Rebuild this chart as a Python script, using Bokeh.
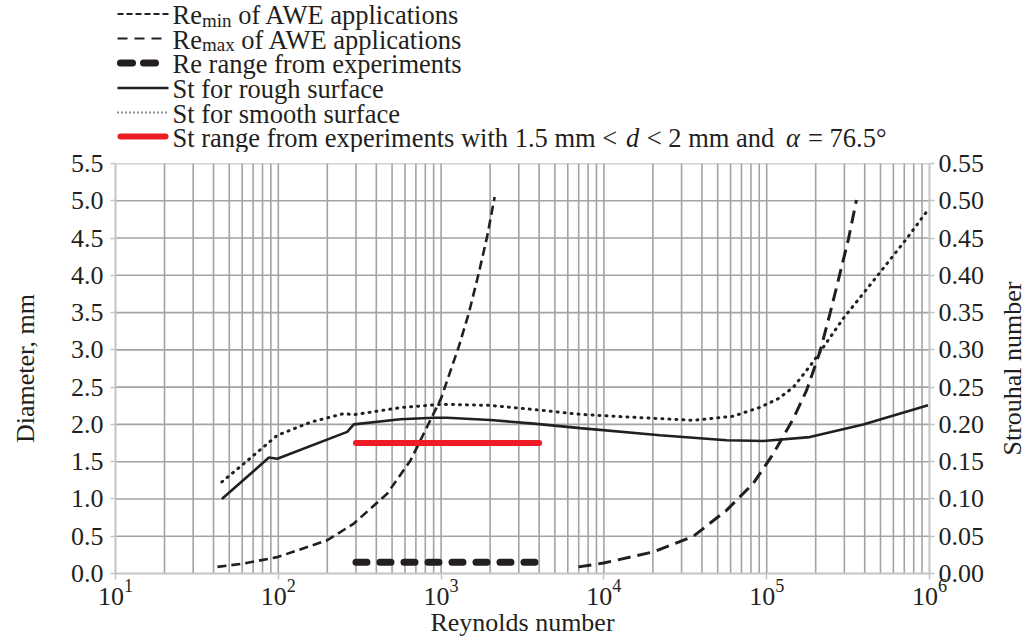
import math
from bokeh.plotting import figure
from bokeh.layouts import column, row
from bokeh.models import (Range1d, LinearAxis, FixedTicker, NumeralTickFormatter,
                          ColumnDataSource)
from bokeh.core.properties import value, field
from bokeh.embed import file_html
from bokeh.resources import INLINE

# ---------------- data ----------------
re_min_re = [42.3, 61.5, 98.6, 200, 291, 466, 650, 819, 1000, 1283, 1479, 1700, 1914, 2133]
re_min_d = [0.089, 0.134, 0.22, 0.446, 0.67, 1.07, 1.52, 1.965, 2.35, 3.04, 3.49, 4.02, 4.51, 5.05]

re_max_re = [6980, 9950, 20100, 35500, 56800, 82800, 110000, 146000, 176000, 212000,
             245000, 275000, 318000, 356000]
re_max_d = [0.089, 0.14, 0.29, 0.50, 0.85, 1.21, 1.61, 2.08, 2.46, 2.97, 3.49, 3.93, 4.49, 5.01]

rough_re = [45, 87.6, 98.6, 265, 291, 562, 902, 1088, 2005, 3700, 7160, 22100, 56700,
            95300, 184000, 392000, 980000]
rough_st = [0.100, 0.1555, 0.154, 0.190, 0.200, 0.207, 0.209, 0.209, 0.206, 0.201, 0.195,
            0.1854, 0.1787, 0.1778, 0.183, 0.200, 0.2256]

smooth_re = [45, 61.5, 98.6, 158, 252, 290, 562, 1000, 2000, 3700, 7160, 13800, 35500,
             62400, 91000, 118000, 146000, 193000, 295000, 473000, 723000, 980000]
smooth_st = [0.1228, 0.1475, 0.1854, 0.203, 0.2145, 0.213, 0.2225, 0.227, 0.2255, 0.220,
             0.2135, 0.210, 0.2055, 0.211, 0.223, 0.2346, 0.250, 0.284, 0.342, 0.398,
             0.449, 0.488]

exp_re = [300, 4000]
exp_d = [0.15, 0.15]
st_exp_re = [300, 4000]
st_exp = [0.175, 0.175]

d_ticks = [i * 0.5 for i in range(12)]
st_ticks = [round(i * 0.05, 2) for i in range(12)]

x_label = "Reynolds number"
y_label = "Diameter, mm"
y2_label = "Strouhal number"

legend_labels = [
    ["Re", "min", " of AWE applications"],
    ["Re", "max", " of AWE applications"],
    ["Re range from experiments"],
    ["St for rough surface"],
    ["St for smooth surface"],
    ["St range from experiments with 1.5 mm < ", "d", " < 2 mm and ", "\u03b1", " = 76.5\u00b0"],
]

# ---------------- styling constants ----------------
INK = "#231f20"
RED = "#ed1c24"
GRID = "#a3a3a3"
AXIS = "#c4c4c4"
FONT = "Liberation Serif"

TOTAL_W = 1030
LEG_H = 152
BL, BT, BB = 115, 11, 68
FW, FH = 814, 410
BR_MAIN = 62                       # room for the right tick labels
SIDE_W = TOTAL_W - BL - FW - BR_MAIN   # strip holding the right axis title
BR_LEG = TOTAL_W - BL - FW

# ================= main chart =================
p = figure(frame_width=FW, frame_height=FH, x_axis_type="log",
           x_range=Range1d(10, 1e6), y_range=Range1d(0, 5.5),
           output_backend="svg", toolbar_location=None,
           min_border_left=BL, min_border_right=BR_MAIN, min_border_top=BT,
           min_border_bottom=BB)
p.outline_line_color = None
p.xgrid.visible = False
p.ygrid.visible = False
p.background_fill_color = "white"
p.border_fill_color = "white"
p.extra_y_ranges = {"st": Range1d(0, 0.55)}

# gridlines: every mantissa 1..9 of each decade, every 0.5 mm
vx = [m * 10 ** k for k in range(1, 6) for m in range(1, 10)][1:]
p.segment(x0=vx, y0=0, x1=vx, y1=5.5, line_color=GRID, line_width=1.6, level="underlay")
hy = d_ticks[1:]
p.segment(x0=10, y0=hy, x1=1e6, y1=hy, line_color=GRID, line_width=1.6, level="underlay")


def style_axis(ax):
    ax.axis_line_color = AXIS
    ax.axis_line_width = 2
    ax.major_tick_line_color = AXIS
    ax.major_tick_line_width = 1.5
    ax.minor_tick_line_color = None
    ax.major_tick_in = 0
    ax.major_tick_out = 5
    ax.major_label_text_font = FONT
    ax.major_label_text_font_size = "26px"
    ax.major_label_text_color = INK
    ax.axis_label_text_font = FONT
    ax.axis_label_text_font_size = "26px"
    ax.axis_label_text_font_style = "normal"
    ax.axis_label_text_color = INK


xa = p.xaxis[0]
style_axis(xa)
xa.axis_label = x_label
xa.major_tick_out = 6
xa.major_label_standoff = 0
xa.axis_label_standoff = 0

ya = p.yaxis[0]
style_axis(ya)
ya.ticker = FixedTicker(ticks=d_ticks)
ya.formatter = NumeralTickFormatter(format="0.0")
ya.axis_label = y_label
ya.major_label_standoff = 7
ya.axis_label_standoff = 28

ra = LinearAxis(y_range_name="st", ticker=FixedTicker(ticks=st_ticks),
                formatter=NumeralTickFormatter(format="0.00"))
style_axis(ra)
ra.major_label_standoff = 4
p.add_layout(ra, "right")

# data curves
p.line(re_min_re, re_min_d, line_color=INK, line_width=2.6, line_dash="9 5")
p.line(re_max_re, re_max_d, line_color=INK, line_width=3, line_dash="13 7")
p.line(rough_re, rough_st, y_range_name="st", line_color=INK, line_width=2.6)
p.line(smooth_re, smooth_st, y_range_name="st", line_color=INK, line_width=3,
       line_dash="1 6", line_cap="round")
p.line(exp_re, exp_d, line_color=INK, line_width=7, line_dash="11 13", line_cap="round")
p.line(st_exp_re, st_exp, y_range_name="st", line_color=RED, line_width=6, line_cap="round")

# ================= right-hand strip with the Strouhal axis title =================
rf = figure(width=SIDE_W, height=BT + FH + BB, x_range=Range1d(0, 1), y_range=Range1d(0, 1),
            output_backend="svg", toolbar_location=None,
            x_axis_location=None, y_axis_location=None,
            min_border_left=0, min_border_right=0, min_border_top=BT, min_border_bottom=BB)
rf.outline_line_color = None
rf.xgrid.visible = False
rf.ygrid.visible = False
rf.border_fill_color = "white"
rf.background_fill_color = "white"
rf.text(x=[0.55], y=[0.5], text=[y2_label], angle=math.pi / 2,
        text_font=value(FONT), text_font_size=value("26px"), text_color=INK,
        text_align="center", text_baseline="middle")

# ================= legend strip above the chart =================
lg = figure(width=TOTAL_W, height=LEG_H, x_range=Range1d(BL, BL + FW),
            y_range=Range1d(LEG_H, 0), output_backend="svg", toolbar_location=None,
            x_axis_location=None, y_axis_location=None,
            min_border_left=BL, min_border_right=BR_LEG, min_border_top=0, min_border_bottom=0)
lg.outline_line_color = None
lg.xgrid.visible = False
lg.ygrid.visible = False
lg.background_fill_color = "white"
lg.border_fill_color = "white"

TW = {' ': 250, 'R': 667, 'e': 444, 'o': 500, 'f': 333, 'A': 722, 'W': 944, 'E': 611,
      'a': 444, 'p': 500, 'l': 278, 'i': 278, 'c': 444, 't': 278, 'n': 500, 's': 389,
      'm': 778, 'x': 500, 'r': 333, 'g': 500, 'S': 556, 'u': 500, 'h': 500, 'w': 722,
      'd': 500, '1': 500, '.': 250, '5': 500, '<': 564, '2': 500, '=': 564, '7': 500,
      '6': 500, '\u00b0': 400, '\u03b1': 540}


def tw(s, size):
    return sum(TW.get(c, 500) for c in s) * size / 1000.0


FS = 26.5
SUB = 19
rows = [13.5, 38, 62.5, 87.5, 112, 136]
LX0, LX1, TX = 117, 168, 172

lg.line([LX0, LX1], [rows[0]] * 2, line_color=INK, line_width=2.2, line_dash="6 3")
lg.line([LX0, LX1], [rows[1]] * 2, line_color=INK, line_width=2.2, line_dash="10 7")
lg.line([LX0 + 3, LX1 - 3], [rows[2]] * 2, line_color=INK, line_width=7,
        line_dash="12 11", line_cap="round")
lg.line([LX0, LX1], [rows[3]] * 2, line_color=INK, line_width=2.4)
lg.line([LX0, LX1], [rows[4]] * 2, line_color=INK, line_width=2.2, line_dash="1 3")
lg.line([LX0 + 3, LX1 - 3], [rows[5]] * 2, line_color=RED, line_width=6, line_cap="round")

xs, ys, txt, sizes, styles = [], [], [], [], []
for r, parts in zip(rows, legend_labels):
    base = r + 1
    x = TX
    for j, part in enumerate(parts):
        sub = (len(parts) == 3 and j == 1)
        italic = part in ("d", "\u03b1")
        size = SUB if sub else FS
        lead = len(part) - len(part.lstrip(" "))
        xs.append(x + tw(" " * lead, size) + (2 if italic else 0))
        ys.append(base + 5 if sub else base)
        txt.append(part.strip(" "))
        sizes.append("%spx" % size)
        styles.append("italic" if italic else "normal")
        x += tw(part, size) + (3 if j > 0 and len(parts) == 5 else 0)

src = ColumnDataSource(dict(x=xs, y=ys, text=txt, size=sizes, style=styles))
lg.text(x="x", y="y", text="text", source=src,
        text_font=value(FONT), text_font_size=field("size"), text_font_style=field("style"),
        text_color=INK, text_baseline="alphabetic", text_align="left")

layout = column(lg, row(p, rf, spacing=0), spacing=0)
open("out.html", "w").write(file_html(layout, INLINE))
